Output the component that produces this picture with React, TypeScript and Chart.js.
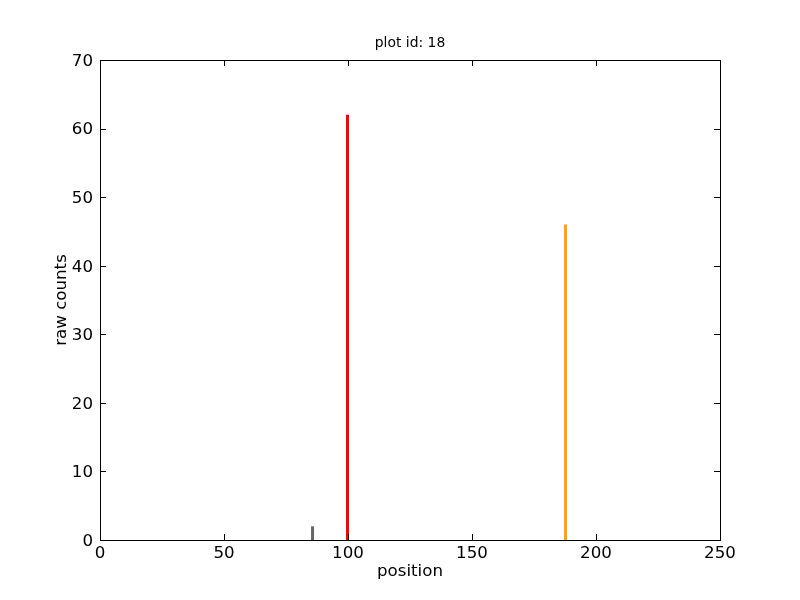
import React, { useEffect, useRef } from "react";
import { Chart, registerables } from "chart.js";

Chart.register(...registerables);

const positions = [85.7, 99.8, 187.7];
const counts = [2, 62, 46];
const colors = ["#666666", "#ff0000", "#ffa500"];
const xTicks = [0, 50, 100, 150, 200, 250];
const yTicks = [0, 10, 20, 30, 40, 50, 60, 70];

const FONT = "'DejaVu Sans', sans-serif";

const framePlugin = {
  id: "frame",
  afterDatasetsDraw(chart: any) {
    const { ctx, chartArea } = chart;
    const { left, right, top, bottom } = chartArea;
    const xs = chart.scales.x;
    const ys = chart.scales.y;
    ctx.save();
    ctx.strokeStyle = "#000";
    ctx.lineWidth = 1;
    ctx.strokeRect(Math.round(left) + 0.5, Math.round(top) + 0.5, Math.round(right - left), Math.round(bottom - top));
    const L = 6;
    ctx.beginPath();
    xTicks.forEach((v) => {
      const px = Math.round(xs.getPixelForValue(v)) + 0.5;
      ctx.moveTo(px, bottom);
      ctx.lineTo(px, bottom - L);
      ctx.moveTo(px, top);
      ctx.lineTo(px, top + L);
    });
    yTicks.forEach((v) => {
      const py = Math.round(ys.getPixelForValue(v)) + 0.5;
      ctx.moveTo(left, py);
      ctx.lineTo(left + L, py);
      ctx.moveTo(right, py);
      ctx.lineTo(right - L, py);
    });
    ctx.stroke();
    ctx.restore();
  },
};

export default function App() {
  const ref = useRef<HTMLCanvasElement>(null);
  useEffect(() => {
    if (!ref.current) return;
    const datasets = positions.map((p, i) => ({
      label: "bar" + i,
      data: [
        { x: p, y: 0 },
        { x: p, y: counts[i] },
      ],
      borderColor: colors[i],
      backgroundColor: colors[i],
      borderWidth: 3,
      borderCapStyle: "butt" as const,
      pointRadius: 0,
      showLine: true,
      fill: false,
    }));
    const chart = new Chart(ref.current, {
      type: "line",
      data: { datasets },
      plugins: [framePlugin],
      options: {
        animation: false,
        responsive: false,
        devicePixelRatio: 1,
        layout: { padding: { top: 0, right: 80, bottom: 0, left: 0 } },
        plugins: {
          legend: { display: false },
          tooltip: { enabled: false },
          title: {
            display: true,
            text: "plot id: 18",
            fullSize: false,
            color: "#000",
            font: { family: FONT, size: 13.9, weight: "normal" },
            padding: { top: 35.32, bottom: 8 },
          },
        },
        scales: {
          x: {
            type: "linear",
            min: 0,
            max: 250,
            afterFit: (s: any) => {
              s.height = 60;
            },
            afterBuildTicks: (s: any) => {
              s.ticks = xTicks.map((v) => ({ value: v }));
            },
            grid: { display: false, drawTicks: false, tickLength: 0 },
            border: { display: false },
            ticks: {
              color: "#000",
              font: { family: FONT, size: 16.67 },
              padding: 4,
              maxRotation: 0,
            },
            title: {
              display: true,
              text: "position",
              color: "#000",
              font: { family: FONT, size: 16.67 },
              padding: { top: 18, bottom: 18 },
            },
          },
          y: {
            type: "linear",
            min: 0,
            max: 70,
            afterFit: (s: any) => {
              s.width = 100;
            },
            afterBuildTicks: (s: any) => {
              s.ticks = yTicks.map((v) => ({ value: v }));
            },
            grid: { display: false, drawTicks: false, tickLength: 0 },
            border: { display: false },
            ticks: {
              color: "#000",
              font: { family: FONT, size: 16.67 },
              padding: 7,
              labelOffset: 1.5,
            },
            title: {
              display: true,
              text: "raw counts",
              color: "#000",
              font: { family: FONT, size: 16.67 },
              padding: { top: 52, bottom: 0 },
            },
          },
        },
      },
    });
    return () => chart.destroy();
  }, []);
  return (
    <div style={{ position: "absolute", left: 0, top: 0, width: 800, height: 600, background: "#fff" }}>
      <canvas ref={ref} width={800} height={600} style={{ display: "block" }} />
    </div>
  );
}
